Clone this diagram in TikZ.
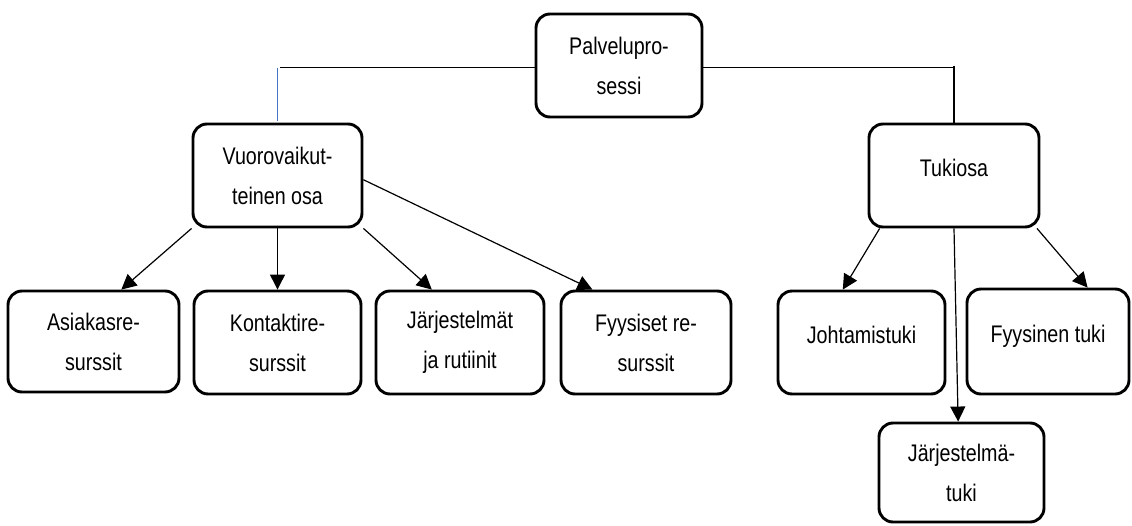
\documentclass[tikz,border=0pt]{standalone}
\usepackage{fontspec}
\setmainfont[FakeStretch=0.82]{Liberation Sans}
\usetikzlibrary{arrows.meta,calc}
\definecolor{wordblue}{RGB}{68,114,196}
\begin{document}
\begin{tikzpicture}[x=1pt,y=-1pt,
  box/.style={draw, line width=2.9pt, rounded corners=14pt, inner sep=0pt,
    align=center, font=\fontsize{24}{40}\selectfont},
  oneline/.style={text height=17pt, text depth=15pt},
  conn/.style={line width=1.2pt},
  arr/.style={conn, -{Triangle[length=15pt,width=15pt]}}]
\useasboundingbox (0,0) rectangle (1132,525);
% boxes
\node[box, minimum width=166pt, minimum height=103pt] (pal) at (619,65.5) {Palvelupro-\\sessi};
\node[box, minimum width=169pt, minimum height=103pt] (vuo) at (277.5,175.5) {Vuorovaikut-\\teinen osa};
\node[box, oneline, minimum width=170pt, minimum height=103pt] (tuk) at (954,175.5) {Tukiosa};
\node[box, minimum width=171pt, minimum height=101pt] (asi) at (93.5,341.5) {Asiakasre-\\surssit};
\node[box, minimum width=167pt, minimum height=103pt] (kon) at (277.5,342.5) {Kontaktire-\\surssit};
\node[box, minimum width=168pt, minimum height=103pt] (jar) at (460,342.5) {Järjestelmät\\ja rutiinit};
\node[box, minimum width=170pt, minimum height=103pt] (fyy) at (646,342.5) {Fyysiset re-\\surssit};
\node[box, oneline, minimum width=167pt, minimum height=103pt] (joh) at (861.5,342.5) {Johtamistuki};
\node[box, oneline, minimum width=162pt, minimum height=105pt] (fyt) at (1048,341.5) {Fyysinen tuki};
\node[box, minimum width=165pt, minimum height=99pt] (jtu) at (961.5,472.5) {Järjestelmä-\\tuki};
% top connectors
\coordinate (pl) at ($(pal.north west)!0.52!(pal.south west)$);
\coordinate (pr) at ($(pal.north east)!0.52!(pal.south east)$);
\draw[line width=1.1pt] (pl) -- ($(pl -| vuo.north)+(2,0)$);
\draw[line width=1.3pt, wordblue] (pl -| vuo.north) -- ($(vuo.north)+(0,-2)$);
\draw[line width=1.1pt] (pr) -- (pr -| tuk.north);
\draw[line width=1.1pt] ($(pr -| tuk.north)+(0,-2)$) -- (tuk.north);
% left arrows
\draw[arr] (vuo.south west) -- ($(asi.north west)!0.66!(asi.north east)$);
\draw[arr] (vuo.south) -- (kon.north);
\draw[arr] (vuo.south east) -- ($(jar.north west)!0.335!(jar.north east)$);
\draw[arr] ($(vuo.north east)!0.54!(vuo.south east)$) -- ($(fyy.north west)!0.19!(fyy.north east)$);
% right arrows
\draw[arr] ($(tuk.south west)!0.07!(tuk.south east)$) -- ($(joh.north west)!0.39!(joh.north east)$);
\draw[arr] (tuk.south) -- ($(jtu.north west)!0.48!(jtu.north east)$);
\draw[arr] ($(tuk.south west)!0.98!(tuk.south east)$) -- ($(fyt.north west)!0.74!(fyt.north east)$);
\end{tikzpicture}
\end{document}
